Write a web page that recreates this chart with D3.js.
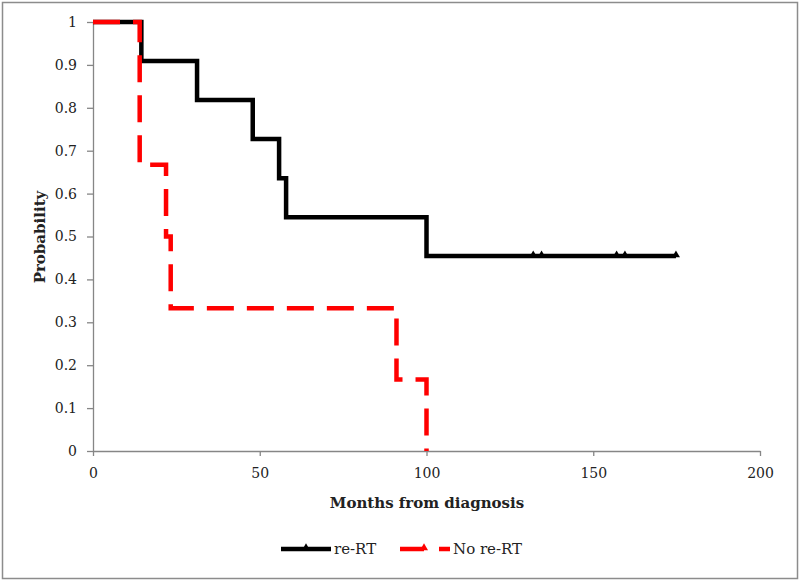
<!DOCTYPE html>
<html><head><meta charset="utf-8">
<script src="https://cdn.jsdelivr.net/npm/d3@7"></script>
<style>body{margin:0;background:#fff}svg{display:block}text{font-family:"DejaVu Serif",serif;fill:#222}</style>
</head><body>
<script>
// re-RT (black) KM steps
const reRTTimes = [0, 14.5, 31.2, 47.9, 55.8, 57.9, 100, 174.8];
const reRTSurv  = [1, 0.909, 0.818, 0.727, 0.636, 0.545, 0.4545, 0.4545];
const reRTCensor = [132, 134.5, 157, 159.5, 174.8];
// No re-RT (red)
const noRTTimes = [0, 14, 21.9, 23.3, 91, 100];
const noRTSurv  = [1, 0.667, 0.5, 0.333, 0.1667, 0];
const xTicks = [0, 50, 100, 150, 200];
const yTicks = [0, 0.1, 0.2, 0.3, 0.4, 0.5, 0.6, 0.7, 0.8, 0.9, 1];
const seriesNames = ["re-RT", "No re-RT"];

const W = 800, H = 583;
const FONT = '"DejaVu Serif",serif';
const svg = d3.select("body").append("svg").attr("width", W).attr("height", H);
svg.append("rect").attr("x", 2.5).attr("y", 2.5).attr("width", 795).attr("height", 576)
  .attr("fill", "#fff").attr("stroke", "#8c8c8c").attr("stroke-width", 1.5);

const x = d3.scaleLinear().domain([0, 200]).range([93, 760]);
const y = d3.scaleLinear().domain([0, 1]).range([451, 22]);

const axisColor = "#868686";
const gx = svg.append("g").attr("transform", `translate(0,${y(0)})`)
  .call(d3.axisBottom(x).tickValues(xTicks).tickSize(5).tickPadding(12).tickSizeOuter(0));
const gy = svg.append("g").attr("transform", `translate(${x(0)},0)`)
  .call(d3.axisLeft(y).tickValues(yTicks).tickSize(6).tickPadding(10).tickSizeOuter(0)
    .tickFormat(d => d3.format("~g")(d)));
[gx, gy].forEach(g => {
  g.select(".domain").attr("stroke", axisColor).attr("stroke-width", 1.3);
  g.selectAll(".tick line").attr("stroke", axisColor).attr("stroke-width", 1.3);
  g.selectAll(".tick text").attr("font-size", 14).attr("fill", "#222").attr("font-family", FONT);
});

svg.append("text").attr("x", 427).attr("y", 508).attr("text-anchor", "middle")
  .attr("font-size", 15).attr("font-weight", "bold").text("Months from diagnosis");
svg.append("text").attr("transform", "translate(45,237) rotate(-90)").attr("text-anchor", "middle")
  .attr("font-size", 15).attr("font-weight", "bold").text("Probability");

const line = d3.line().x(d => x(d[0])).y(d => y(d[1])).curve(d3.curveStepAfter);
const blackData = reRTTimes.map((t, i) => [t, reRTSurv[i]]);
const redData = noRTTimes.map((t, i) => [t, noRTSurv[i]]);

svg.append("path").datum(blackData).attr("d", line).attr("fill", "none")
  .attr("stroke", "#000").attr("stroke-width", 4.5).attr("stroke-linejoin", "miter");

function survAt(t) { let s = 1; reRTTimes.forEach((tt, i) => { if (tt <= t) s = reRTSurv[i]; }); return s; }
const tri = d3.symbol().type(d3.symbolTriangle).size(28);
svg.selectAll(".cens").data(reRTCensor).enter().append("path")
  .attr("transform", d => `translate(${x(d)},${y(survAt(d)) - 1})`)
  .attr("d", tri).attr("fill", "#000");

svg.append("path").datum(redData).attr("d", line).attr("fill", "none")
  .attr("stroke", "#ff0000").attr("stroke-width", 4.5).attr("stroke-dasharray", "27,13");

// legend
const lg = svg.append("g");
lg.append("line").attr("x1", 281).attr("x2", 331).attr("y1", 549).attr("y2", 549)
  .attr("stroke", "#000").attr("stroke-width", 4.5);
lg.append("path").attr("transform", "translate(306,548)").attr("d", tri).attr("fill", "#000");
lg.append("text").attr("x", 334).attr("y", 554).attr("font-size", 15).text(seriesNames[0]);
lg.append("line").attr("x1", 400).attr("x2", 450).attr("y1", 549).attr("y2", 549)
  .attr("stroke", "#ff0000").attr("stroke-width", 4.5).attr("stroke-dasharray", "24,15");
lg.append("path").attr("transform", "translate(424,548)").attr("d", tri).attr("fill", "#ff0000");
lg.append("text").attr("x", 453).attr("y", 554).attr("font-size", 15).text(seriesNames[1]);
</script>
</body></html>
